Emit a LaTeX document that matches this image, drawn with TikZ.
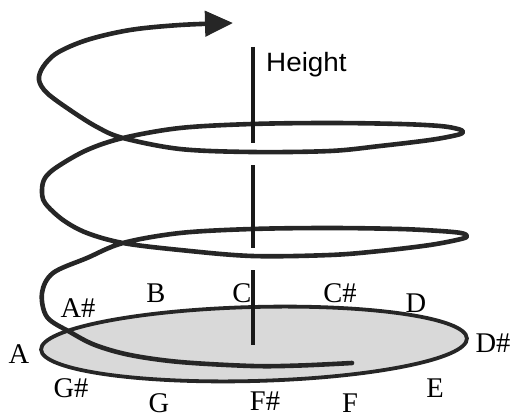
\documentclass[tikz,border=0pt]{standalone}
\usepackage{fontspec}
\setmainfont{Liberation Serif}
\newfontfamily\hsans{Liberation Sans}
\usetikzlibrary{arrows.meta}
\tikzset{
  note/.style={font=\fontsize{28.5}{28}\selectfont, anchor=base, inner sep=0pt, text depth=0pt, text=black},
  heightlabel/.style={font=\hsans\fontsize{26.5}{27}\selectfont, anchor=base west, inner sep=0pt, xscale=1.05},
  disk/.style={draw=black!85, line width=3.8pt, fill=black!15},
  axisline/.style={draw=black!90, line width=3.2pt},
  spiral/.style={draw=black!85, line width=4.6pt, line cap=round, line join=round,
    -{Triangle[length=28pt,width=25pt]}}
}
\begin{document}
\begin{tikzpicture}[x=1pt,y=-1pt]
\useasboundingbox (0,0) rectangle (514,417);
% base disk
\draw[disk] (254,344) ellipse [x radius=213, y radius=37, rotate=1.5];
% helix
\draw[spiral] plot[smooth, tension=0.55] coordinates {
 (352,363) (300,365.5) (252,366) (180,362) (130,355) (95,345) (70,332) (47,317) (42,293) (53,273) (87,258) (123,243)
 (180,233) (252,229) (330,228) (400,229) (440,231) (461,233) (467,236) (461,239) (430,245) (380,251) (330,255) (252,256) (180,250) (123,243)
 (87,233) (63,220) (45,203) (42,190) (45,178) (57,167) (87,150) (123,138)
 (180,128) (252,124) (330,123) (400,124) (440,126) (458,129) (463,132) (457,135) (430,140) (380,146) (330,151) (252,152) (180,149) (123,138)
 (97,127) (70,110) (47,93) (39,80) (43,67) (57,53) (87,40) (130,30) (180,25) (233,23)};
% height axis
\coordinate (h1a) at (253,47);  \coordinate (h1b) at (253,143);
\coordinate (h2a) at (253,165); \coordinate (h2b) at (253,248);
\coordinate (h3a) at (253,270); \coordinate (h3b) at (253,345);
\draw[axisline] (h1a) -- (h1b);
\draw[axisline] (h2a) -- (h2b);
\draw[axisline] (h3a) -- (h3b);
\node[heightlabel] (height) at (266,72) {Height};
% pitch classes
\node[note] (nA)  at (19,363)  {A};
\node[note] (nAs) at (78,317)  {A\#};
\node[note] (nB)  at (156,302) {B};
\node[note] (nC)  at (242,302) {C};
\node[note] (nCs) at (340,302) {C\#};
\node[note] (nD)  at (416,312) {D};
\node[note] (nDs) at (493,352) {D\#};
\node[note] (nE)  at (435,397) {E};
\node[note] (nF)  at (350,412) {F};
\node[note] (nFs) at (265,410) {F\#};
\node[note] (nG)  at (159,412) {G};
\node[note] (nGs) at (71,397)  {G\#};
\end{tikzpicture}
\end{document}
